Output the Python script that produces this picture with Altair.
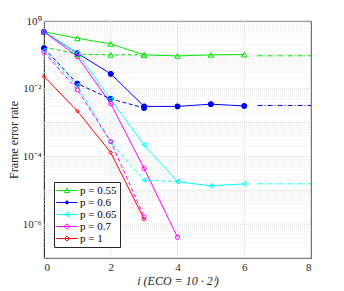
import altair as alt
import pandas as pd

series = ["p = 0.55", "p = 0.6", "p = 0.65", "p = 0.7", "p = 1"]
colors = ["#00e600", "#0000ff", "#00ffff", "#ff00ff", "#ff0000"]
shapes = ["triangle-up", "circle", "triangle-left", "circle", "diamond"]
fills = ["transparent", "#0000ff", "transparent", "transparent", "transparent"]
sizes = [30, 14, 30, 28, 26]

# solid curves (x = i, y = frame error rate)
solid_x = {
    "p = 0.55": [0, 1, 2, 3, 4, 5, 6],
    "p = 0.6": [0, 1, 2, 3, 4, 5, 6],
    "p = 0.65": [0, 1, 2, 3, 4, 5, 6],
    "p = 0.7": [0, 1, 2, 3, 4],
    "p = 1": [0, 1, 2, 3],
}
solid_y = {
    "p = 0.55": [0.48, 0.31, 0.21, 0.10, 0.093, 0.10, 0.102],
    "p = 0.6": [0.48, 0.112, 0.0275, 0.0030, 0.0030, 0.0035, 0.0031],
    "p = 0.65": [0.48, 0.112, 0.0048, 2.2e-4, 1.8e-5, 1.35e-5, 1.55e-5],
    "p = 0.7": [0.48, 0.089, 0.0036, 4.4e-5, 4.1e-7],
    "p = 1": [0.023, 0.0022, 1.3e-4, 1.4e-6],
}
# dashed curves
dash_x = {
    "p = 0.55": [0, 1, 2, 3],
    "p = 0.6": [0, 1, 2, 3],
    "p = 0.65": [0, 1, 2, 3, 4],
    "p = 0.7": [0, 1, 2, 3],
}
dash_y = {
    "p = 0.55": [0.17, 0.105, 0.10, 0.10],
    "p = 0.6": [0.158, 0.0141, 0.0050, 0.0027],
    "p = 0.65": [0.135, 0.0123, 2.6e-4, 2.0e-5, 1.8e-5],
    "p = 0.7": [0.12, 0.0093, 2.75e-4, 1.66e-6],
}
# dash-dot asymptotes
asym_series = ["p = 0.55", "p = 0.6", "p = 0.65"]
asym_x = [6.4, 8]
asym_y = [0.094, 0.0032, 1.55e-5]

# grid values
major_y = [1, 0.1, 0.01, 1e-3, 1e-4, 1e-5, 1e-6, 1e-7]
minor_y = [m * 10.0 ** e for e in range(-7, 0) for m in range(2, 10)]
grid_x = [2, 4, 6]
y_ticks = [1, 1e-2, 1e-4, 1e-6]
x_ticks = [0, 2, 4, 6, 8]

rows = []
for s in series:
    for x, y in zip(solid_x[s], solid_y[s]):
        rows.append({"series": s, "style": "solid", "x": x, "y": y})
    if s in dash_x:
        for x, y in zip(dash_x[s], dash_y[s]):
            rows.append({"series": s, "style": "dashed", "x": x, "y": y})
for s, y in zip(asym_series, asym_y):
    for x in asym_x:
        rows.append({"series": s, "style": "dashdot", "x": x, "y": y})
df = pd.DataFrame(rows)

FONT = "Liberation Serif, Times New Roman, serif"
W, H = 267, 237
xs = alt.Scale(domain=[0, 8], nice=False)
ys = alt.Scale(type="log", domain=[1e-7, 1], nice=False)
col_scale = alt.Scale(domain=series, range=colors)

x_enc = alt.X("x:Q", scale=xs,
              axis=alt.Axis(values=x_ticks, title="i (ECO = 10 · 2ⁱ)", grid=False,
                            ticks=False, titleFontStyle="italic", titlePadding=3))
y_enc = alt.Y("y:Q", scale=ys,
              axis=alt.Axis(values=y_ticks, title="Frame error rate", grid=False, ticks=False,
                            labelExpr="datum.value >= 0.5 ? '10⁰' : datum.value >= 0.005 ? '10⁻²' : datum.value >= 5e-5 ? '10⁻⁴' : '10⁻⁶'",
                            titlePadding=2))

minor_df = pd.DataFrame({"y": minor_y})
major_df = pd.DataFrame({"y": major_y})
gx_df = pd.DataFrame({"x": grid_x})

minor_grid = alt.Chart(minor_df).mark_rule(color="#dddddd", strokeWidth=0.6, strokeDash=[1, 1]).encode(
    y=alt.Y("y:Q", scale=ys), x=alt.value(0), x2=alt.value(W))
major_grid = alt.Chart(major_df).mark_rule(color="#e4e4e4", strokeWidth=0.8).encode(
    y=alt.Y("y:Q", scale=ys), x=alt.value(0), x2=alt.value(W))
vgrid = alt.Chart(gx_df).mark_rule(color="#e4e4e4", strokeWidth=0.8).encode(
    x=alt.X("x:Q", scale=xs), y=alt.value(0), y2=alt.value(H))

base = alt.Chart(df)
solid = base.transform_filter("datum.style == 'solid'").mark_line(strokeWidth=1).encode(
    x=x_enc, y=y_enc, color=alt.Color("series:N", scale=col_scale, legend=None), detail="series:N")
dashed = base.transform_filter("datum.style == 'dashed'").mark_line(strokeWidth=1, strokeDash=[4, 2.5]).encode(
    x=x_enc, y=y_enc, color=alt.Color("series:N", scale=col_scale, legend=None), detail="series:N")
dashdot = base.transform_filter("datum.style == 'dashdot'").mark_line(strokeWidth=1, strokeDash=[5, 2, 1, 2]).encode(
    x=x_enc, y=y_enc, color=alt.Color("series:N", scale=col_scale, legend=None), detail="series:N")

pts = base.transform_filter("datum.style != 'dashdot'").mark_point(strokeWidth=1, opacity=1).encode(
    x=x_enc, y=y_enc,
    stroke=alt.Stroke("series:N", scale=col_scale, legend=None),
    fill=alt.Fill("series:N", scale=alt.Scale(domain=series, range=fills), legend=None),
    shape=alt.Shape("series:N", scale=alt.Scale(domain=series, range=shapes), legend=None),
    size=alt.Size("series:N", scale=alt.Scale(domain=series, range=sizes), legend=None),
)

# legend symbols: line segment with the marker in the middle
leg_paths = [
    "M-1.2,0H3.0M0.9,-0.5L1.4,0.4L0.4,0.4Z",
    "M-1.2,0H3.0M1.2,0A0.3,0.3,0,1,1,0.6,0A0.3,0.3,0,1,1,1.2,0Z",
    "M-1.2,0H3.0M0.4,0L1.3,-0.5L1.3,0.5Z",
    "M-1.2,0H3.0M1.35,0A0.45,0.45,0,1,1,0.45,0A0.45,0.45,0,1,1,1.35,0Z",
    "M-1.2,0H3.0M0.9,-0.5L1.4,0L0.9,0.5L0.4,0Z",
]
legend_layer = base.transform_filter("datum.x > 100").mark_point(strokeWidth=1, opacity=1).encode(
    x=x_enc, y=y_enc,
    stroke=alt.Stroke("series:N", scale=alt.Scale(domain=series, range=colors), legend=alt.Legend(title=None)),
    fill=alt.Fill("series:N", scale=alt.Scale(domain=series, range=fills), legend=alt.Legend(title=None)),
    shape=alt.Shape("series:N", scale=alt.Scale(domain=series, range=leg_paths), legend=alt.Legend(title=None)),
)

chart = alt.layer(minor_grid, major_grid, vgrid, solid, dashed, dashdot, pts, legend_layer).resolve_scale(
    shape="independent", fill="independent", stroke="independent"
).properties(
    width=W, height=H,
    autosize=alt.AutoSizeParams(type="none"),
    padding={"left": 36, "top": 13, "right": 17, "bottom": 32},
).configure_view(stroke="#262626", strokeWidth=0.8).configure_axis(
    labelFont=FONT, titleFont=FONT, labelFontSize=11, titleFontSize=12,
    labelColor="#262626", titleColor="#262626", domainColor="#262626", domainWidth=0.8,
    titleFontWeight="normal", labelPadding=3,
).configure_legend(
    orient="none", legendX=10, legendY=161, padding=3, rowPadding=0,
    symbolSize=100, symbolStrokeWidth=1, labelOffset=12,
    labelFont=FONT, labelFontSize=11, labelColor="#000000",
    strokeColor="#262626", fillColor="white", cornerRadius=0,
)

chart.save("out.html", embed_options={"renderer": "svg", "actions": False})
